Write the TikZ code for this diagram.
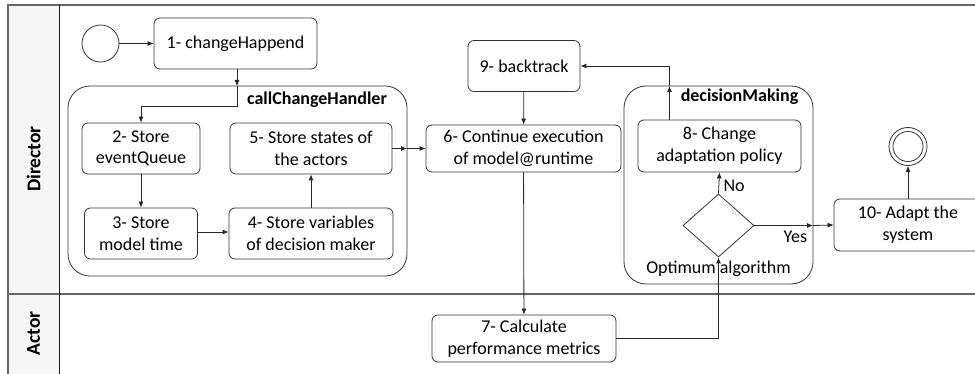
\documentclass[tikz,border=0pt]{standalone}
\usepackage{fontspec}
\setmainfont{Carlito}
\usetikzlibrary{shapes.geometric,arrows.meta}
\begin{document}
\begin{tikzpicture}[x=1pt,y=-1pt,
  every node/.style={font=\fontsize{18}{21.6}\selectfont},
  box/.style={draw=black!80,line width=0.8pt,rounded corners=6pt,align=center,inner sep=0pt},
  cont/.style={draw=black!80,line width=0.8pt,rounded corners=22pt},
  arr/.style={draw=black!85,line width=0.8pt,-{Latex[length=6pt,width=5pt]}},
  ln/.style={draw=black!85,line width=0.8pt},
  title/.style={font=\fontsize{18}{21.6}\selectfont\bfseries},
  lane/.style={font=\fontsize{19.5}{22}\selectfont\bfseries,rotate=90}]
\useasboundingbox (0,0) rectangle (975,374);
% lanes
\fill[gray!7] (8,5) rectangle (59,380);
\draw[black!60,line width=1.2pt] (990,5) -- (8,5) -- (8,380);
\draw[black!60,line width=1.2pt] (8,294) -- (990,294);
\draw[black!90,line width=1pt] (59,5) -- (59,380);
\node[lane] (ldir) at (33.5,159) {Director};
\node[lane] (lact) at (33.5,333.5) {Actor};
% containers
\draw[cont] (68,86) rectangle (407,276);
\coordinate (cchN) at (237,86);
\coordinate (cchE) at (407,148.5);
\node[title] (tcch) at (317,100) {callChangeHandler};
\draw[cont] (624,86) rectangle (813,284);
\coordinate (dmN) at (669.5,86);
\coordinate (dmE) at (813,225.5);
\node[title] (tdm) at (739.5,97) {decisionMaking};
% nodes
\node[circle,draw=black!80,line width=0.8pt,minimum size=37pt,inner sep=0pt] (start) at (100.5,43.5) {};
\node[box,minimum width=163pt,minimum height=51pt] (n1) at (235.5,43.5) {1- changeHappend};
\node[box,minimum width=118pt,minimum height=51pt] (n2) at (141,148.5) {2- Store\\eventQueue};
\node[box,minimum width=113pt,minimum height=51pt] (n3) at (141,233.5) {3- Store\\model time};
\node[box,minimum width=164pt,minimum height=51pt] (n4) at (311,233.5) {4- Store variables\\of decision maker};
\node[box,minimum width=162pt,minimum height=51pt] (n5) at (311,148.5) {5- Store states of\\the actors};
\node[box,minimum width=195pt,minimum height=47pt] (n6) at (523.5,148.5) {6- Continue execution\\of model@runtime};
\node[box,minimum width=184pt,minimum height=47pt] (n7) at (524,338.5) {7- Calculate\\performance metrics};
\node[box,minimum width=163pt,minimum height=52pt] (n8) at (719.5,146) {8- Change\\adaptation policy};
\node[box,minimum width=112pt,minimum height=51pt] (n9) at (524,66) {9- backtrack};
\node[box,minimum width=148pt,minimum height=52pt] (n10) at (908,225) {10- Adapt the\\system};
\node[diamond,draw=black!80,line width=0.8pt,minimum width=71pt,minimum height=63pt,inner sep=0pt,
  label={[inner sep=0pt,yshift=-3pt]below:Optimum algorithm}] (dec) at (718.5,225.5) {};
\node[circle,draw=black!80,line width=0.8pt,minimum size=38pt,inner sep=0pt] (end) at (908,146.5) {};
\node[circle,draw=black!80,line width=0.8pt,minimum size=30pt,inner sep=0pt] (endi) at (908,146.5) {};
% connectors
\draw[arr] (start) -- (n1);
\draw[arr] (n1.south -| cchN) -- (cchN);
\draw[arr] (cchN) -- (237,106) -| (n2.north);
\draw[arr] (n2) -- (n3);
\draw[arr] (n3.east |- 0,232) -- (n4.west |- 0,232);
\draw[arr] (n4) -- (n5);
\draw[arr] (n5.east) -- (cchE);
\draw[arr] (cchE) -- (n6.west);
\draw[arr] (n9) -- (n6);
\draw[arr] (n6) -- (n7);
\draw[arr] (n7.east) -| (dec.south);
\draw[arr] (dec.north) -- node[right=1pt,pos=0.35] (lno) {No} (n8.south);
\draw[arr] (n8.north -| dmN) -- (dmN);
\draw[arr] (dmN) |- (n9.east);
\draw[arr] (dec.east) -- node[below=2pt,pos=0.7] (lyes) {Yes} (dmE);
\draw[arr] (dmE) -- (n10.west);
\draw[arr] (n10.north) -- (end.south);
\end{tikzpicture}
\end{document}
